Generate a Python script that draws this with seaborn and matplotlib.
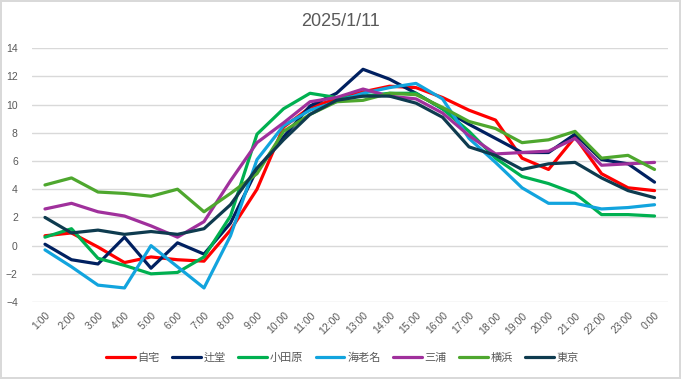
import pandas as pd
import numpy as np
import seaborn as sns
import matplotlib.pyplot as plt

hours = ['1:00', '2:00', '3:00', '4:00', '5:00', '6:00', '7:00', '8:00', '9:00', '10:00',
         '11:00', '12:00', '13:00', '14:00', '15:00', '16:00', '17:00', '18:00', '19:00',
         '20:00', '21:00', '22:00', '23:00', '0:00']

jitaku = [0.7, 0.9, -0.1, -1.2, -0.8, -1.0, -1.1, 1.1, 4.0, 8.4, 9.8, 10.4, 10.9, 11.3,
          11.2, 10.5, 9.6, 8.9, 6.2, 5.4, 7.7, 5.1, 4.1, 3.9]
tsujido = [0.1, -1.0, -1.3, 0.6, -1.6, 0.2, -0.6, 1.6, 5.4, 7.7, 9.9, 10.8, 12.5, 11.8,
           10.8, 9.7, 8.6, 7.6, 6.6, 6.6, 7.9, 6.1, 5.8, 4.5]
odawara = [0.6, 1.2, -0.9, -1.4, -2.0, -1.9, -0.8, 2.1, 7.9, 9.7, 10.8, 10.5, 10.6, 10.8,
           10.8, 9.7, 8.1, 6.2, 4.9, 4.4, 3.7, 2.2, 2.2, 2.1]
ebina = [-0.3, -1.5, -2.8, -3.0, 0.0, -1.5, -3.0, 0.7, 6.1, 8.5, 9.6, 10.2, 10.8, 11.2,
         11.5, 10.4, 7.6, 5.9, 4.1, 3.0, 3.0, 2.6, 2.7, 2.9]
miura = [2.6, 3.0, 2.4, 2.1, 1.4, 0.6, 1.7, 4.6, 7.3, 8.7, 10.2, 10.5, 11.1, 10.6,
         10.4, 9.4, 7.8, 6.5, 6.6, 6.7, 7.6, 5.7, 5.8, 5.9]
yokohama = [4.3, 4.8, 3.8, 3.7, 3.5, 4.0, 2.4, 3.7, 5.1, 8.1, 9.3, 10.2, 10.3, 10.8,
            10.7, 9.8, 8.8, 8.3, 7.3, 7.5, 8.1, 6.2, 6.4, 5.4]
tokyo = [2.0, 0.9, 1.1, 0.8, 1.0, 0.8, 1.2, 2.9, 5.5, 7.5, 9.3, 10.3, 10.6, 10.6,
         10.1, 9.1, 7.0, 6.4, 5.4, 5.8, 5.9, 4.8, 3.9, 3.4]

places = ['自宅', '辻堂', '小田原', '海老名', '三浦', '横浜', '東京']
colors = ['#FF0000', '#002060', '#00B050', '#12A4DE', '#A0309C', '#4EA72E', '#0E3B4F']


def build_frame():
    series = [jitaku, tsujido, odawara, ebina, miura, yokohama, tokyo]
    rows = []
    for name, vals in zip(places, series):
        for i, v in enumerate(vals):
            rows.append({'pos': i, 'place': name, 'temp': v})
    return pd.DataFrame(rows)


def main():
    data = build_frame()
    sns.set_style('white')
    plt.rcParams['font.family'] = ['Liberation Sans', 'Noto Sans CJK JP']

    fig = plt.figure(figsize=(6.81, 3.79), dpi=100)
    fig.patch.set_edgecolor('#D9D9D9')
    fig.patch.set_linewidth(1.5)
    ax = fig.add_axes([0.0466, 0.203, 0.934, 0.670])

    sns.lineplot(data=data, x='pos', y='temp', hue='place', hue_order=places,
                 palette=colors, linewidth=2.3, sort=False, ax=ax)

    ax.set_xlim(-0.5, len(hours) - 0.5)
    ax.set_ylim(-4, 14)
    ax.set_yticks(range(-4, 15, 2))
    ax.set_xticks(range(len(hours)))
    ax.set_xticklabels(hours, rotation=45, ha='right', rotation_mode='anchor')
    ax.tick_params(axis='both', length=0, labelsize=7.5, colors='#595959')
    ax.tick_params(axis='x', pad=6)
    ax.tick_params(axis='y', pad=10)
    ax.yaxis.grid(True, color='#D9D9D9', linewidth=1)
    ax.set_axisbelow(True)
    for s in ax.spines.values():
        s.set_visible(False)
    ax.set_xlabel('')
    ax.set_ylabel('')

    fig.suptitle('2025/1/11', y=0.965, fontsize=13, color='#595959')

    handles, labels = ax.get_legend_handles_labels()
    ax.legend(handles, labels, loc='center', bbox_to_anchor=(0.503, 0.055),
              bbox_transform=fig.transFigure, ncol=7, frameon=False,
              fontsize=8, handlelength=2.6, handletextpad=0.25, columnspacing=1.1,
              labelcolor='#595959')

    fig.savefig('out.png', dpi=100)
    plt.close(fig)


if __name__ == "__main__":
    main()
